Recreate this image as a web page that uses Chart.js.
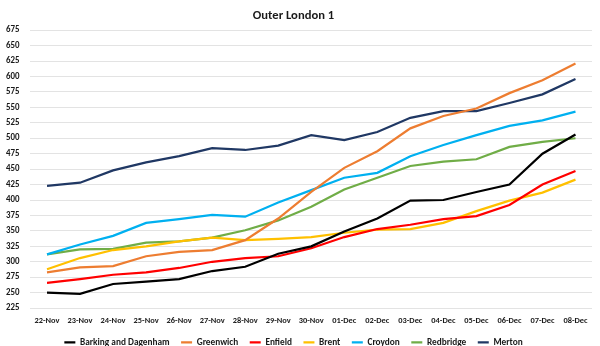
<!DOCTYPE html>
<html>
<head>
<meta charset="utf-8">
<script src="https://cdn.jsdelivr.net/npm/chart.js@4.4.1/dist/chart.umd.min.js"></script>
<style>
  html, body { margin: 0; padding: 0; background: #ffffff; }
  #wrap { width: 600px; height: 346px; }
</style>
</head>
<body>
<div id="wrap"><canvas id="chart" width="600" height="346"></canvas></div>
<script>
// Daily dates shown along the x axis
const dates = ['22-Nov', '23-Nov', '24-Nov', '25-Nov', '26-Nov', '27-Nov', '28-Nov', '29-Nov', '30-Nov',
  '01-Dec', '02-Dec', '03-Dec', '04-Dec', '05-Dec', '06-Dec', '07-Dec', '08-Dec'];

// Values per borough
const barkingAndDagenham = [250, 248, 264, 268, 272, 285, 292, 313, 325, 349, 370, 399, 400, 413, 425, 475, 506];
const greenwich = [283, 291, 293, 309, 316, 319, 335, 370, 413, 452, 479, 516, 536, 548, 573, 594, 621];
const enfield = [266, 272, 279, 283, 290, 300, 306, 309, 322, 340, 353, 360, 369, 374, 392, 425, 447];
const brent = [288, 306, 319, 325, 333, 339, 335, 337, 340, 347, 352, 353, 363, 382, 399, 412, 433];
const croydon = [312, 328, 342, 363, 369, 376, 373, 396, 416, 436, 444, 471, 489, 505, 520, 529, 543];
const redbridge = [312, 320, 321, 331, 333, 339, 351, 367, 389, 417, 436, 455, 462, 466, 486, 494, 500];
const merton = [423, 428, 448, 461, 471, 484, 481, 488, 505, 497, 510, 533, 544, 544, 557, 571, 596];

// Value axis range and step
const yMin = 225;
const yMax = 675;
const yStep = 25;

const series = [
  { label: 'Barking and Dagenham', data: barkingAndDagenham, color: '#000000' },
  { label: 'Greenwich', data: greenwich, color: '#ED7D31' },
  { label: 'Enfield', data: enfield, color: '#FF0000' },
  { label: 'Brent', data: brent, color: '#FFC000' },
  { label: 'Croydon', data: croydon, color: '#00B0F0' },
  { label: 'Redbridge', data: redbridge, color: '#70AD47' },
  { label: 'Merton', data: merton, color: '#203864' }
];

const uiFont = 'Carlito, "Liberation Sans", sans-serif';

// The legend reserves less height than it needs and is then lifted a little,
// so the date labels can sit close to it.
const legendLift = {
  id: 'legendLift',
  afterLayout(chart) {
    const lg = chart.legend;
    if (lg) { lg.top -= 8; lg.bottom -= 8; }
  }
};

new Chart(document.getElementById('chart'), {
  type: 'line',
  data: {
    labels: dates,
    datasets: series.map(s => ({
      label: s.label,
      data: s.data,
      borderColor: s.color,
      backgroundColor: s.color,
      borderWidth: 2.2,
      pointRadius: 0,
      pointHoverRadius: 0,
      tension: 0,
      fill: false
    }))
  },
  plugins: [legendLift],
  options: {
    responsive: false,
    animation: false,
    devicePixelRatio: 1,
    layout: { padding: { left: -5, right: 8, top: 0, bottom: -19 } },
    plugins: {
      title: {
        display: true,
        text: 'Outer London 1',
        color: '#1a1a1a',
        font: { family: uiFont, size: 12.6, weight: 'bold', lineHeight: 1.2 },
        padding: { top: 8, bottom: 7 }
      },
      legend: {
        display: true,
        position: 'bottom',
        labels: {
          color: '#1a1a1a',
          font: { family: uiFont, size: 9.3, weight: 'bold' },
          usePointStyle: true,
          pointStyle: 'line',
          pointStyleWidth: 11,
          boxHeight: 2,
          padding: 11.5
        }
      },
      tooltip: { enabled: false }
    },
    scales: {
      x: {
        offset: true,
        grid: { display: false, drawTicks: false },
        border: { display: false },
        ticks: {
          color: '#1a1a1a',
          font: { family: uiFont, size: 8.4, weight: 'bold', lineHeight: 1.2 },
          maxRotation: 0,
          autoSkip: false,
          padding: 8
        }
      },
      y: {
        min: yMin,
        max: yMax,
        grid: { color: '#e3e3e3', lineWidth: 1, drawTicks: false },
        border: { display: false },
        ticks: {
          stepSize: yStep,
          autoSkip: false,
          color: '#1a1a1a',
          font: { family: uiFont, size: 8.9, weight: 'bold' },
          padding: 11
        }
      }
    }
  }
});
</script>
</body>
</html>
